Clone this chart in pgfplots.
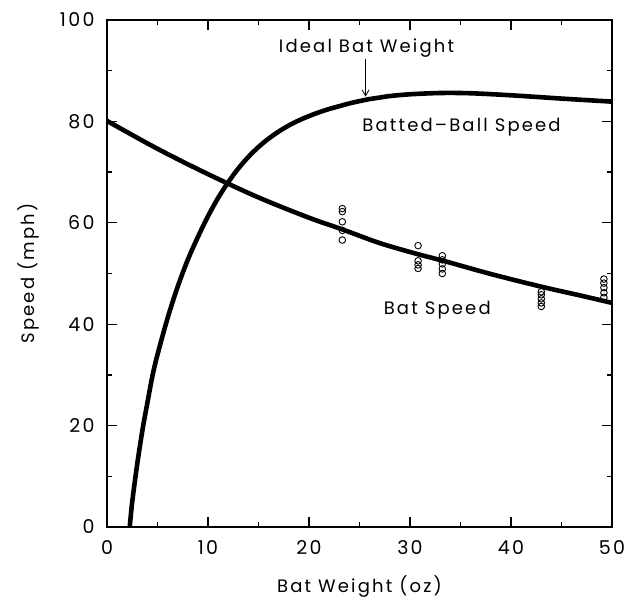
\documentclass[border=0pt]{standalone}
\usepackage{pgfplots}
\pgfplotsset{compat=1.18}
\usetikzlibrary{arrows.meta}
\usepackage{fontspec}
\setmainfont{Poppins}[LetterSpace=12]
\begin{document}
\begin{tikzpicture}
\begin{axis}[
  scale only axis,
  width=505pt, height=507pt,
  xmin=0, xmax=50, ymin=0, ymax=100,
  xtick={0,10,...,50}, ytick={0,20,...,100},
  minor xtick={5,15,...,45}, minor ytick={10,30,...,90},
  tick align=inside,
  major tick length=10pt, minor tick length=5pt,
  every major tick/.style={draw=black, line width=1.3pt},
  every minor tick/.style={draw=black, line width=1.3pt},
  axis line style={line width=1.1pt},
  /pgf/number format/assume math mode=true,
  ticklabel style={font=\fontsize{19}{22}\selectfont},
  xticklabel style={yshift=-10pt},
  yticklabel style={xshift=-9pt},
  xlabel={Bat Weight (oz)}, ylabel={Speed (mph)},
  label style={font=\fontsize{18}{21}\selectfont},
  xlabel style={yshift=-14pt},
  ylabel style={yshift=14pt},
  clip=false,
]
% tick marks on all four sides
\pgfplotsinvokeforeach{10,20,30,40}{
  \draw[line width=1.3pt] (axis cs:#1,0) -- ++(0,10pt);
  \draw[line width=1.3pt] (axis cs:#1,100) -- ++(0,-10pt);
}
\pgfplotsinvokeforeach{5,15,25,35,45}{
  \draw[line width=1.3pt] (axis cs:#1,0) -- ++(0,5pt);
  \draw[line width=1.3pt] (axis cs:#1,100) -- ++(0,-5pt);
}
\pgfplotsinvokeforeach{20,40,60,80}{
  \draw[line width=1.3pt] (axis cs:0,#1) -- ++(10pt,0);
  \draw[line width=1.3pt] (axis cs:50,#1) -- ++(-10pt,0);
}
\pgfplotsinvokeforeach{10,30,50,70,90}{
  \draw[line width=1.3pt] (axis cs:0,#1) -- ++(5pt,0);
  \draw[line width=1.3pt] (axis cs:50,#1) -- ++(-5pt,0);
}
% Batted-ball speed
\addplot[black, line width=4.6pt, smooth, tension=0.55] coordinates {
 (2.25,0) (2.5,5) (3,12.5) (3.5,19) (4,24.5) (4.5,29.8) (5,34) (6,41.2) (7,47.4)
 (8,52.7) (9,57.2) (10,61.3) (11,64.9) (12,68.0) (13,70.7) (14,73.0) (15,74.95)
 (16,76.6) (17,78.0) (18,79.2) (19,80.2) (20,81.05) (21,81.8) (22,82.45) (23,83.0)
 (24,83.55) (25,84.0) (26,84.4) (27,84.7) (28,85.0) (30,85.35) (33,85.6) (36,85.55)
 (40,85.15) (45,84.5) (50,83.9)
};
% Bat speed
\addplot[black, line width=4.6pt, smooth, tension=0.55] coordinates {
 (0,80.1) (5,74.6) (10,69.6) (15,65.0) (20,61.0) (23.3,58.7) (27,56.0) (30.8,53.8)
 (33.5,52.4) (38,49.9) (43,47.4) (47,45.6) (50,44.2)
};
% measured points
\addplot[only marks, mark=o, mark size=3.3pt, mark options={line width=0.9pt, black}] coordinates {
 (23.3,62.8) (23.3,62.2) (23.3,60.2) (23.3,58.5) (23.3,56.6)
 (30.8,55.5) (30.8,52.5) (30.8,51.7) (30.8,51.0)
 (33.2,53.5) (33.2,52.7) (33.2,51.9) (33.2,50.9) (33.2,50.0)
 (43.0,46.4) (43.0,45.8) (43.0,45.0) (43.0,44.2) (43.0,43.5)
 (49.2,48.9) (49.2,48.1) (49.2,47.2) (49.2,46.2) (49.2,45.3)
};
\node[font=\fontsize{18}{21}\selectfont] at (axis cs:25.7,94.5) {Ideal Bat Weight};
\draw[-{Straight Barb[length=6pt,width=7pt]}, line width=0.8pt] (axis cs:25.6,92.3) -- (axis cs:25.6,84.9);
\node[font=\fontsize{18}{21}\selectfont] at (axis cs:35.1,78.8) {Batted--Ball Speed};
\node[font=\fontsize{18}{21}\selectfont] at (axis cs:32.7,42.8) {Bat Speed};
\end{axis}
\path (current axis.south west) ++(-107pt,-72pt) rectangle ++(633pt,599pt);
\end{tikzpicture}
\end{document}
